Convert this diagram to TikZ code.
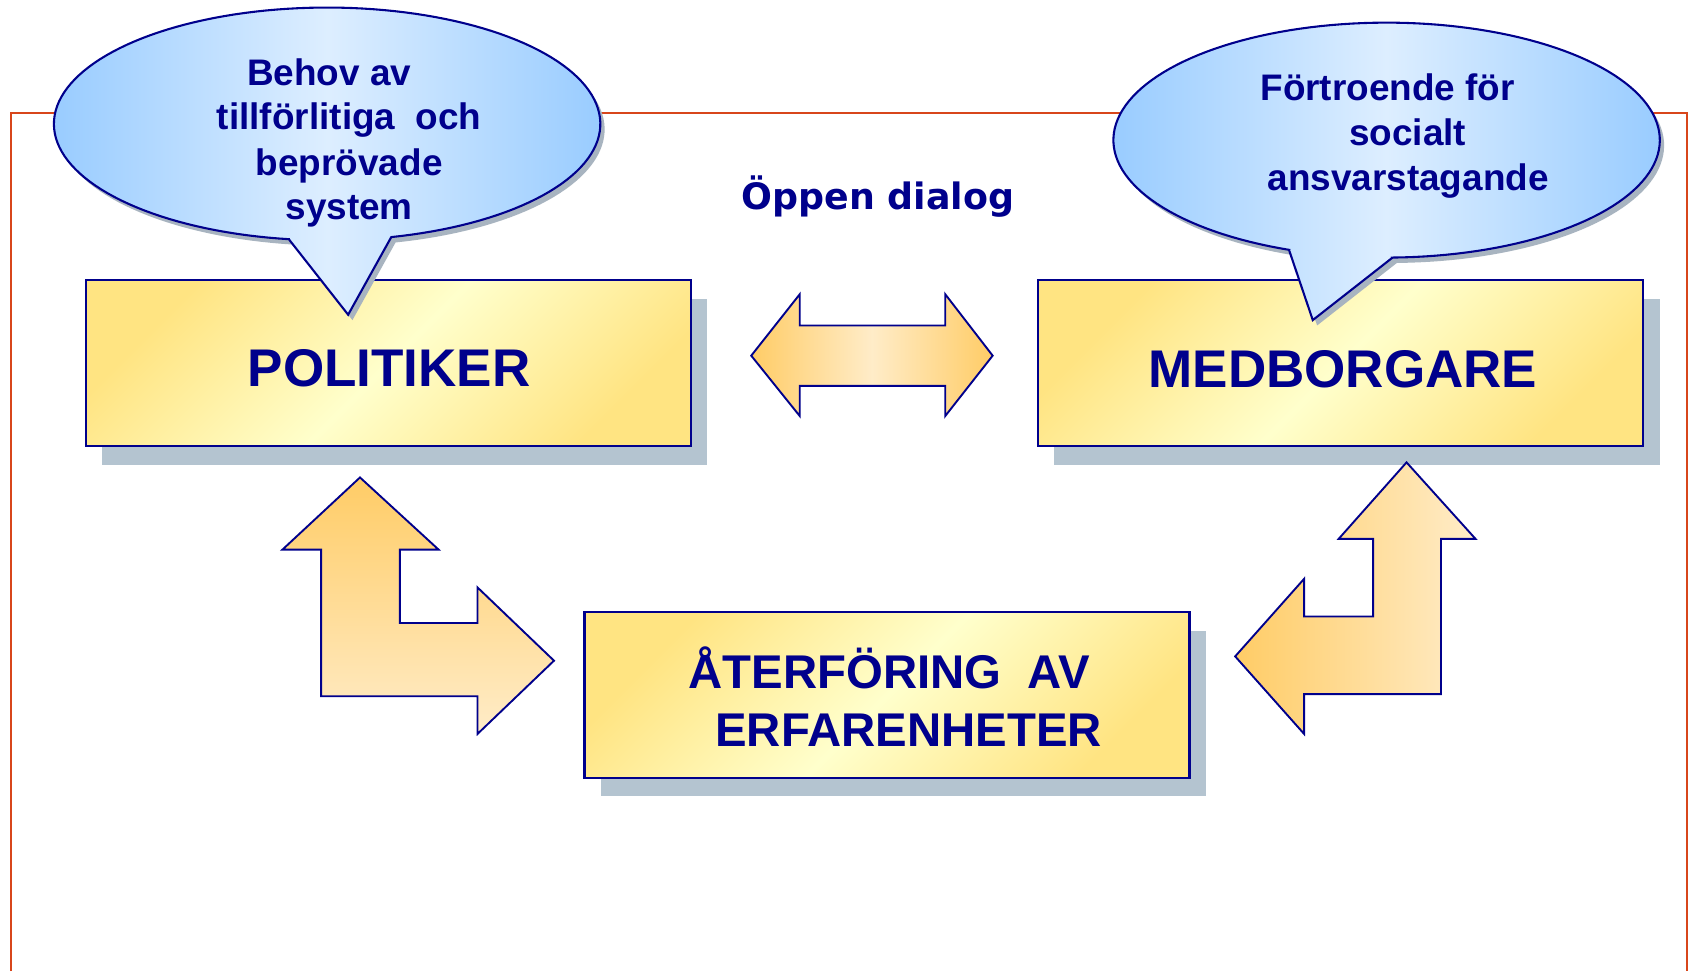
\documentclass[tikz,border=0pt]{standalone}
\usepackage{fontspec}
\setmainfont{Liberation Sans}
\newfontfamily\dejavu{DejaVu Sans}
\usetikzlibrary{shadows}
\definecolor{navy}{RGB}{0,0,140}
\definecolor{framec}{RGB}{216,70,27}
\definecolor{bubedge}{RGB}{153,204,255}
\definecolor{bubmid}{RGB}{221,238,255}
\definecolor{bubshadow}{RGB}{168,180,192}
\definecolor{boxdark}{RGB}{255,228,130}
\definecolor{boxlight}{RGB}{255,255,204}
\definecolor{shadowc}{RGB}{180,196,208}
\definecolor{ordark}{RGB}{255,204,102}
\definecolor{orlight}{RGB}{255,236,200}
\tikzset{
  frameline/.style={draw=framec, line width=1.2pt},
  box/.style={draw=navy, line width=1.2pt, inner sep=0pt,
    minimum width=11.23cm, minimum height=3.08cm,
    top color=boxdark, bottom color=boxdark, middle color=boxlight, shading angle=45,
    drop shadow={shadow xshift=0.3cm, shadow yshift=-0.34cm, fill=shadowc, opacity=1}},
  boxtxt/.style={font=\fontsize{28}{34}\selectfont\bfseries, text=navy, anchor=base, inner sep=0pt},
  boxtxtb/.style={font=\fontsize{25}{30}\selectfont\bfseries, text=navy, anchor=base, inner sep=0pt},
  bubtxt/.style={font=\fontsize{19.5}{23}\selectfont\bfseries, text=navy, anchor=base, inner sep=0pt},
  bubble/.style={draw=navy, line width=1.1pt, left color=bubedge, right color=bubedge, middle color=bubmid},
  bubshade/.style={fill=bubshadow},
  blockarrow/.style={draw=navy, line width=1pt, line join=miter},
}
\begin{document}
\begin{tikzpicture}[x=0.02cm,y=-0.02cm]
\useasboundingbox (0,0) rectangle (1568,901);
\fill[white] (0,0) rectangle (1568,901);
% frame
\draw[frameline] (10,901) -- (10,105) -- (1565,105) -- (1565,901);

% boxes
\node[box] (pol) at (360.5,337) {};
\node[box] (med) at (1244,337) {};
\node[box] (ater) at (823,645) {};

% left bubble shadow + bubble
\begin{scope}[shift={(4,5)}]
\fill[bubshade] (268,222) -- (323,292) -- (363,220) -- plot[domain=76.4:-261.95,samples=150] ({303.5+253.5*cos(\x)},{115+108*sin(\x)}) -- cycle;
\end{scope}
\path[bubble] (268,222) -- (323,292) -- (363,220) -- plot[domain=76.4:-261.95,samples=150] ({303.5+253.5*cos(\x)},{115+108*sin(\x)}) -- cycle;

% right bubble shadow + bubble
\begin{scope}[shift={(4,5)}]
\fill[bubshade] (1196,232) -- (1218,297) -- (1292,239) -- plot[domain=88.76:-249.1,samples=150] ({1286.5+253.5*cos(\x)},{130+109*sin(\x)}) -- cycle;
\end{scope}
\path[bubble] (1196,232) -- (1218,297) -- (1292,239) -- plot[domain=88.76:-249.1,samples=150] ({1286.5+253.5*cos(\x)},{130+109*sin(\x)}) -- cycle;

% double arrow
\path[blockarrow, left color=ordark, right color=ordark, middle color=orlight]
  (697,330) -- (742,273) -- (742,302) -- (877,302) -- (877,273) -- (921,330)
  -- (877,386) -- (877,358) -- (742,358) -- (742,386) -- cycle;

% left L arrow
\path[blockarrow, top color=ordark, bottom color=orlight]
  (334,443) -- (407,510) -- (371,510) -- (371,578) -- (443,578) -- (443,545)
  -- (514,613) -- (443,681) -- (443,646) -- (298,646) -- (298,510) -- (262,510) -- cycle;

% right L arrow
\path[blockarrow, left color=ordark, right color=orlight]
  (1305,429) -- (1369,500) -- (1337,500) -- (1337,644) -- (1210,644) -- (1210,681)
  -- (1146,609) -- (1210,537) -- (1210,572) -- (1274,572) -- (1274,500) -- (1242,500) -- cycle;

% texts
\node[boxtxt] (polT) at (361,359) {POLITIKER};
\node[boxtxt] (medT) at (1246,359.5) {MEDBORGARE};
\node[boxtxtb] (aterT1) at (825,638.6) {ÅTERFÖRING\ \ AV};
\node[boxtxtb] (aterT2) at (843,692.8) {ERFARENHETER};

\node[bubtxt] (b1) at (305.5,79) {Behov av};
\node[bubtxt] (b2) at (324,120.6) {tillförlitiga\ \ och};
\node[bubtxt] (b3) at (324,162.4) {beprövade};
\node[bubtxt] (b4) at (324,204) {system};

\node[bubtxt] (r1) at (1287.5,93.7) {Förtroende för};
\node[bubtxt] (r2) at (1306,135.2) {socialt};
\node[bubtxt] (r3) at (1306.5,176.3) {ansvarstagande};

\node[font=\dejavu\fontsize{19.2}{23}\selectfont\bfseries, text=navy, anchor=base, inner sep=0pt] (dialog) at (814.5,194.8) {Öppen dialog};
\end{tikzpicture}
\end{document}
